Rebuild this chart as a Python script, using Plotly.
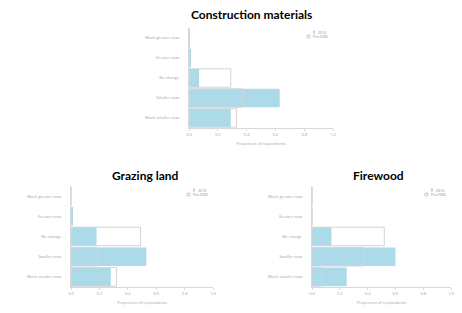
import plotly.graph_objects as go

categories = ["Much smaller now", "Smaller now", "No change", "Greater now", "Much greater now"]
tick_vals = [0.0, 0.2, 0.4, 0.6, 0.8, 1.0]
tick_text = ["0.0", "0.2", "0.4", "0.6", "0.8", "1.0"]

panel_titles = ["Construction materials", "Grazing land", "Firewood"]

construction_now = [0.29, 0.63, 0.07, 0.01, 0.003]
construction_past = [0.33, 0.37, 0.29, 0.0, 0.0]
grazing_now = [0.28, 0.53, 0.18, 0.01, 0.0]
grazing_past = [0.32, 0.19, 0.49, 0.0, 0.0]
firewood_now = [0.25, 0.60, 0.14, 0.0, 0.0]
firewood_past = [0.07, 0.37, 0.52, 0.0, 0.0]

legend_labels = ["2016", "Pre 2006"]

now_series = [construction_now, grazing_now, firewood_now]
past_series = [construction_past, grazing_past, firewood_past]

W, H = 462, 313
# pixel boxes: (x0, x1, ytop, ybottom)
boxes = [(189, 333, 28, 128), (71, 213, 186, 287), (312, 451, 186, 287)]
title_pos = [(252, 15), (145, 175), (378, 175)]

BAR = "#acdae9"
GRID = "#d9d9d9"
TXT = "#a0a0a0"

fig = go.Figure()
for i in range(3):
    ax = "" if i == 0 else str(i + 1)
    fig.add_trace(go.Bar(
        y=categories, x=now_series[i], orientation="h",
        marker=dict(color=BAR, line=dict(width=0)),
        name=legend_labels[0], xaxis="x" + ax, yaxis="y" + ax, showlegend=False,
    ))
    fig.add_trace(go.Bar(
        y=categories, x=past_series[i], orientation="h",
        marker=dict(color="rgba(255,255,255,0)", line=dict(color="#d4d4d4", width=1)),
        name=legend_labels[1], xaxis="x" + ax, yaxis="y" + ax, showlegend=False,
    ))

layout = dict(
    width=W, height=H, margin=dict(l=0, r=0, t=0, b=0, autoexpand=False),
    paper_bgcolor="white", plot_bgcolor="white",
    barmode="overlay", bargap=0.08, showlegend=False,
    font=dict(family="Open Sans", color=TXT, size=4),
)
annotations = []
shapes = []
for i, (x0, x1, yt, yb) in enumerate(boxes):
    ax = "" if i == 0 else str(i + 1)
    layout["xaxis" + ax] = dict(
        domain=[x0 / W, x1 / W], range=[0, 1], anchor="y" + ax, automargin=False,
        tickvals=tick_vals, ticktext=tick_text, ticks="outside", ticklen=2,
        tickcolor=GRID, showline=True, linecolor=GRID, linewidth=1,
        showgrid=False, zeroline=False, tickfont=dict(size=4, color=TXT),
        title=dict(text="Proportion of respondents", font=dict(size=4, color=TXT), standoff=6),
    )
    layout["yaxis" + ax] = dict(
        domain=[1 - yb / H, 1 - yt / H], anchor="x" + ax, automargin=False,
        categoryorder="array", categoryarray=categories,
        showline=True, linecolor=GRID, linewidth=1, showgrid=False,
        ticks="", tickfont=dict(size=4, color=TXT), ticklabelstandoff=8,
    )
    # small legend, top right of each panel
    ly1 = yt + 4
    ly2 = yt + 8.5
    shapes.append(dict(type="line", xref="paper", yref="paper",
                       x0=(x1 - 19) / W, x1=(x1 - 19) / W,
                       y0=1 - (ly1 + 1.5) / H, y1=1 - (ly1 - 1.5) / H,
                       line=dict(width=1, color="#9a9a9a")))
    shapes.append(dict(type="rect", xref="paper", yref="paper",
                       x0=(x1 - 26) / W, x1=(x1 - 23) / W,
                       y0=1 - (ly2 + 1.3) / H, y1=1 - (ly2 - 1.3) / H,
                       fillcolor="white", line=dict(width=0.6, color="#aaaaaa")))
    annotations.append(dict(text=legend_labels[0], x=(x1 - 16.5) / W, y=1 - ly1 / H,
                            xref="paper", yref="paper", showarrow=False,
                            xanchor="left", yanchor="middle", borderpad=0,
                            font=dict(size=3.6, color="#8a8a8a")))
    annotations.append(dict(text=legend_labels[1], x=(x1 - 21) / W, y=1 - ly2 / H,
                            xref="paper", yref="paper", showarrow=False,
                            xanchor="left", yanchor="middle", borderpad=0,
                            font=dict(size=3.6, color="#8a8a8a")))
    tx, ty = title_pos[i]
    annotations.append(dict(
        text="<b>" + panel_titles[i] + "</b>", x=tx / W, y=1 - ty / H,
        xref="paper", yref="paper", showarrow=False, xanchor="center", yanchor="middle",
        font=dict(family="Lato", size=12, color="black"),
    ))
layout["annotations"] = annotations
layout["shapes"] = shapes
fig.update_layout(**layout)
fig.write_html("out.html", config={"displayModeBar": False},
               post_script="document.body.style.margin='0';document.body.style.overflow='hidden';")
